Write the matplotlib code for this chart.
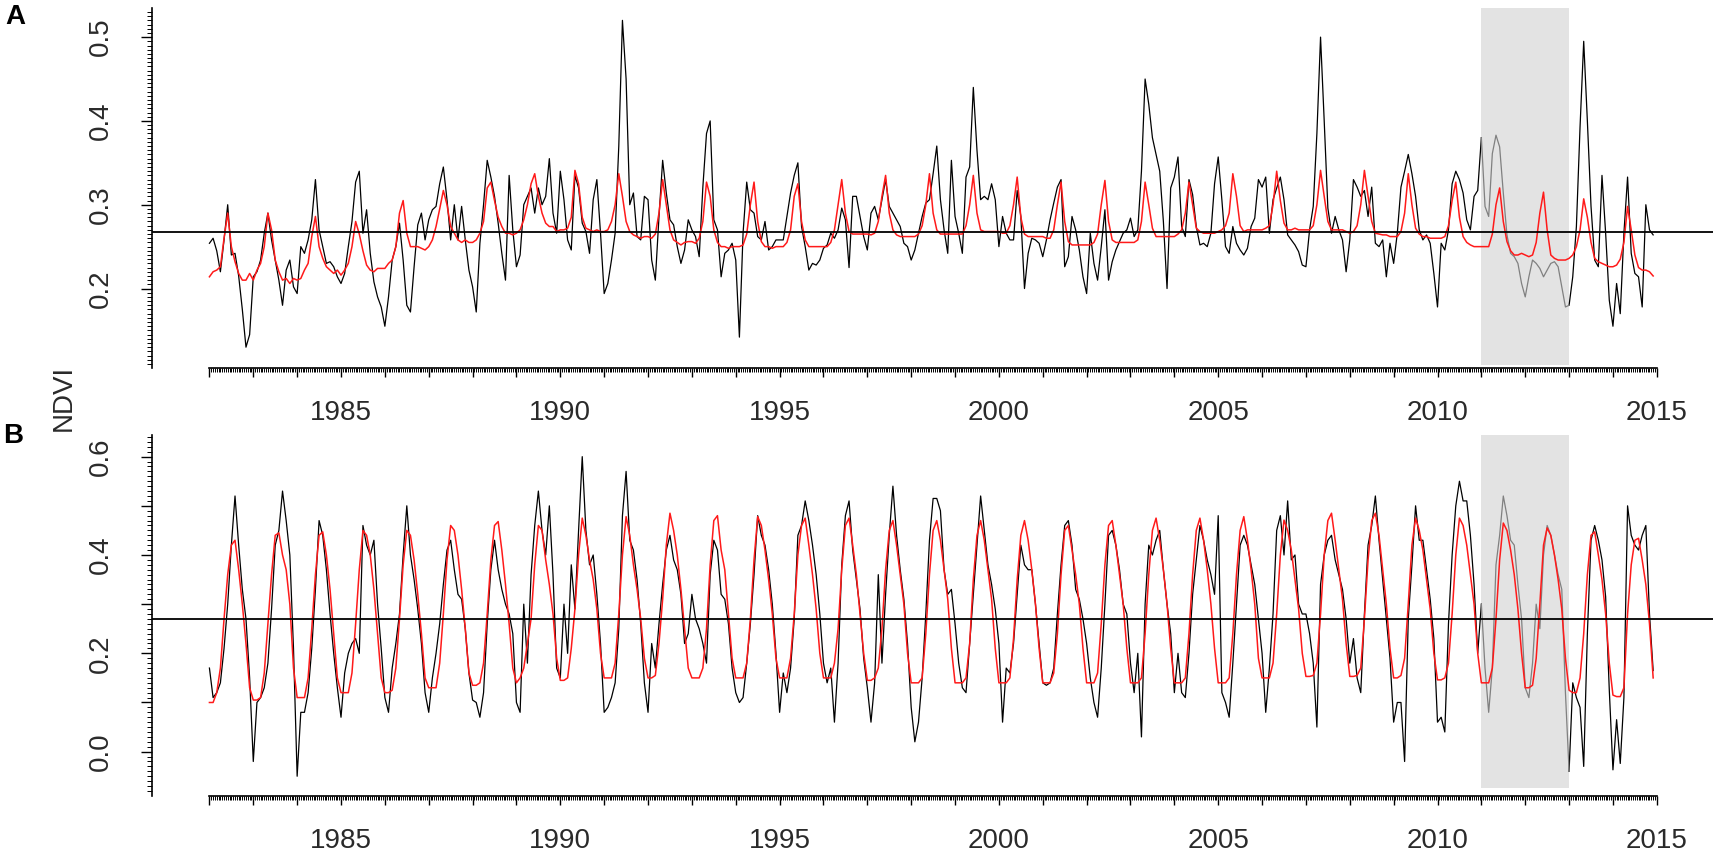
import numpy as np
import matplotlib
matplotlib.use("Agg")
import matplotlib.pyplot as plt
from matplotlib.ticker import FixedLocator, FixedFormatter

plt.rcParams['font.family'] = ['Liberation Sans', 'DejaVu Sans']

# monthly NDVI, one row per year (1982 .. 2014)
ndvi_a = [
    0.254, 0.26, 0.245, 0.22, 0.258, 0.30, 0.24, 0.242, 0.215, 0.175, 0.13, 0.145,
    0.214, 0.22, 0.234, 0.266, 0.29, 0.258, 0.234, 0.21, 0.18, 0.222, 0.234, 0.202,
    0.194, 0.25, 0.242, 0.258, 0.282, 0.33, 0.27, 0.25, 0.23, 0.232, 0.226, 0.214,
    0.206, 0.218, 0.25, 0.28, 0.327, 0.34, 0.266, 0.294, 0.242, 0.208, 0.19, 0.178,
    0.155, 0.19, 0.234, 0.25, 0.278, 0.234, 0.18, 0.172, 0.226, 0.276, 0.29, 0.258,
    0.282, 0.294, 0.298, 0.325, 0.345, 0.306, 0.258, 0.30, 0.258, 0.298, 0.258, 0.222,
    0.202, 0.172, 0.254, 0.30, 0.353, 0.333, 0.31, 0.278, 0.242, 0.21, 0.335, 0.27,
    0.226, 0.24, 0.30, 0.31, 0.32, 0.29, 0.32, 0.30, 0.31, 0.355, 0.29, 0.266,
    0.34, 0.306, 0.258, 0.246, 0.335, 0.32, 0.278, 0.268, 0.242, 0.306, 0.33, 0.266,
    0.194, 0.206, 0.234, 0.266, 0.37, 0.52, 0.45, 0.30, 0.314, 0.262, 0.258, 0.31,
    0.306, 0.234, 0.21, 0.286, 0.353, 0.314, 0.282, 0.276, 0.25, 0.23, 0.246, 0.282,
    0.27, 0.262, 0.238, 0.321, 0.385, 0.40, 0.282, 0.27, 0.214, 0.242, 0.246, 0.254,
    0.234, 0.142, 0.266, 0.327, 0.294, 0.29, 0.262, 0.258, 0.28, 0.246, 0.25, 0.258,
    0.258, 0.258, 0.286, 0.314, 0.335, 0.35, 0.274, 0.25, 0.222, 0.23, 0.228, 0.234,
    0.248, 0.252, 0.266, 0.26, 0.27, 0.296, 0.282, 0.225, 0.31, 0.31, 0.286, 0.262,
    0.246, 0.29, 0.298, 0.282, 0.306, 0.33, 0.298, 0.29, 0.282, 0.274, 0.254, 0.25,
    0.234, 0.246, 0.266, 0.286, 0.302, 0.306, 0.337, 0.37, 0.306, 0.27, 0.242, 0.353,
    0.286, 0.266, 0.242, 0.333, 0.345, 0.44, 0.365, 0.306, 0.31, 0.306, 0.325, 0.306,
    0.25, 0.286, 0.266, 0.258, 0.258, 0.317, 0.286, 0.20, 0.242, 0.26, 0.258, 0.254,
    0.238, 0.258, 0.282, 0.302, 0.321, 0.33, 0.226, 0.238, 0.286, 0.27, 0.246, 0.214,
    0.194, 0.266, 0.23, 0.21, 0.25, 0.294, 0.21, 0.232, 0.246, 0.256, 0.266, 0.27,
    0.284, 0.262, 0.27, 0.34, 0.45, 0.42, 0.38, 0.36, 0.34, 0.28, 0.20, 0.32,
    0.333, 0.357, 0.274, 0.262, 0.33, 0.312, 0.274, 0.252, 0.254, 0.25, 0.266, 0.325,
    0.357, 0.306, 0.25, 0.242, 0.274, 0.254, 0.246, 0.24, 0.248, 0.274, 0.284, 0.33,
    0.321, 0.333, 0.266, 0.306, 0.32, 0.333, 0.306, 0.264, 0.258, 0.252, 0.244, 0.228,
    0.226, 0.27, 0.298, 0.385, 0.50, 0.40, 0.296, 0.266, 0.286, 0.27, 0.258, 0.22,
    0.258, 0.33, 0.321, 0.31, 0.317, 0.286, 0.321, 0.254, 0.25, 0.258, 0.214, 0.254,
    0.23, 0.266, 0.321, 0.34, 0.36, 0.337, 0.31, 0.27, 0.258, 0.264, 0.254, 0.218,
    0.178, 0.254, 0.246, 0.27, 0.325, 0.34, 0.33, 0.314, 0.282, 0.27, 0.31, 0.317,
    0.38, 0.298, 0.286, 0.361, 0.383, 0.369, 0.314, 0.264, 0.242, 0.238, 0.23, 0.206,
    0.19, 0.214, 0.234, 0.23, 0.224, 0.214, 0.222, 0.23, 0.232, 0.226, 0.202, 0.178,
    0.18, 0.214, 0.274, 0.393, 0.495, 0.40, 0.298, 0.234, 0.226, 0.335, 0.266, 0.186,
    0.155, 0.206, 0.17, 0.266, 0.333, 0.242, 0.218, 0.214, 0.178, 0.30, 0.27, 0.264,
]

fit_a = [
    0.214, 0.22, 0.222, 0.226, 0.26, 0.29, 0.25, 0.232, 0.218, 0.21, 0.21, 0.218,
    0.21, 0.222, 0.23, 0.25, 0.29, 0.27, 0.234, 0.22, 0.21, 0.212, 0.206, 0.212,
    0.21, 0.212, 0.222, 0.23, 0.262, 0.286, 0.25, 0.236, 0.226, 0.222, 0.218, 0.222,
    0.216, 0.222, 0.23, 0.25, 0.28, 0.265, 0.245, 0.228, 0.222, 0.22, 0.224, 0.224,
    0.224, 0.23, 0.234, 0.25, 0.29, 0.305, 0.266, 0.25, 0.25, 0.25, 0.248, 0.246,
    0.25, 0.258, 0.274, 0.295, 0.317, 0.30, 0.274, 0.266, 0.258, 0.255, 0.258, 0.255,
    0.255, 0.258, 0.266, 0.28, 0.32, 0.327, 0.305, 0.285, 0.274, 0.266, 0.266, 0.264,
    0.266, 0.27, 0.282, 0.30, 0.325, 0.337, 0.31, 0.29, 0.278, 0.274, 0.274, 0.268,
    0.27, 0.27, 0.272, 0.285, 0.341, 0.325, 0.285, 0.272, 0.27, 0.268, 0.27, 0.268,
    0.268, 0.27, 0.28, 0.30, 0.337, 0.31, 0.28, 0.268, 0.264, 0.262, 0.26, 0.262,
    0.262, 0.26, 0.265, 0.29, 0.33, 0.30, 0.27, 0.258, 0.255, 0.252, 0.255, 0.256,
    0.256, 0.254, 0.26, 0.28, 0.327, 0.31, 0.27, 0.255, 0.25, 0.25, 0.248, 0.25,
    0.25, 0.25, 0.252, 0.265, 0.30, 0.327, 0.28, 0.256, 0.25, 0.25, 0.248, 0.25,
    0.25, 0.25, 0.255, 0.27, 0.31, 0.325, 0.28, 0.258, 0.25, 0.25, 0.25, 0.25,
    0.25, 0.25, 0.255, 0.27, 0.30, 0.33, 0.29, 0.268, 0.265, 0.265, 0.265, 0.265,
    0.265, 0.264, 0.266, 0.28, 0.31, 0.335, 0.29, 0.27, 0.264, 0.262, 0.262, 0.262,
    0.262, 0.262, 0.265, 0.275, 0.30, 0.337, 0.29, 0.27, 0.265, 0.265, 0.265, 0.265,
    0.265, 0.265, 0.265, 0.275, 0.30, 0.335, 0.29, 0.27, 0.268, 0.268, 0.268, 0.268,
    0.268, 0.266, 0.266, 0.275, 0.30, 0.333, 0.285, 0.265, 0.262, 0.262, 0.262, 0.262,
    0.262, 0.26, 0.26, 0.27, 0.30, 0.327, 0.28, 0.256, 0.252, 0.252, 0.252, 0.252,
    0.252, 0.252, 0.255, 0.265, 0.30, 0.329, 0.28, 0.258, 0.255, 0.255, 0.255, 0.255,
    0.255, 0.255, 0.258, 0.28, 0.327, 0.30, 0.272, 0.262, 0.262, 0.262, 0.262, 0.262,
    0.262, 0.265, 0.27, 0.29, 0.327, 0.30, 0.272, 0.268, 0.266, 0.266, 0.266, 0.266,
    0.268, 0.27, 0.275, 0.29, 0.337, 0.31, 0.275, 0.268, 0.27, 0.27, 0.27, 0.27,
    0.27, 0.272, 0.275, 0.30, 0.34, 0.305, 0.278, 0.27, 0.27, 0.272, 0.27, 0.27,
    0.27, 0.27, 0.275, 0.30, 0.341, 0.31, 0.28, 0.27, 0.27, 0.27, 0.27, 0.268,
    0.266, 0.268, 0.275, 0.30, 0.341, 0.31, 0.28, 0.266, 0.265, 0.264, 0.264, 0.262,
    0.262, 0.262, 0.268, 0.29, 0.337, 0.30, 0.272, 0.265, 0.262, 0.262, 0.26, 0.26,
    0.26, 0.26, 0.262, 0.275, 0.305, 0.327, 0.285, 0.262, 0.255, 0.252, 0.25, 0.25,
    0.25, 0.25, 0.25, 0.265, 0.30, 0.32, 0.28, 0.256, 0.245, 0.24, 0.24, 0.242,
    0.24, 0.238, 0.24, 0.255, 0.29, 0.315, 0.27, 0.24, 0.236, 0.234, 0.234, 0.234,
    0.236, 0.24, 0.25, 0.27, 0.307, 0.285, 0.255, 0.236, 0.232, 0.23, 0.228, 0.226,
    0.226, 0.228, 0.235, 0.255, 0.298, 0.27, 0.24, 0.225, 0.222, 0.222, 0.22, 0.215,
]

ndvi_b = [
    0.17, 0.11, 0.12, 0.14, 0.21, 0.30, 0.42, 0.52, 0.42, 0.33, 0.27, 0.15,
    -0.02, 0.10, 0.11, 0.13, 0.18, 0.29, 0.42, 0.45, 0.53, 0.47, 0.40, 0.21,
    -0.05, 0.08, 0.08, 0.12, 0.21, 0.33, 0.47, 0.44, 0.37, 0.28, 0.20, 0.13,
    0.07, 0.16, 0.20, 0.22, 0.23, 0.20, 0.46, 0.42, 0.40, 0.43, 0.30, 0.21,
    0.11, 0.08, 0.17, 0.22, 0.28, 0.40, 0.50, 0.40, 0.35, 0.29, 0.22, 0.12,
    0.08, 0.15, 0.20, 0.26, 0.34, 0.41, 0.43, 0.37, 0.32, 0.31, 0.25, 0.16,
    0.105, 0.10, 0.07, 0.12, 0.26, 0.37, 0.43, 0.37, 0.33, 0.30, 0.28, 0.24,
    0.10, 0.08, 0.30, 0.18, 0.36, 0.46, 0.53, 0.45, 0.40, 0.50, 0.36, 0.17,
    0.15, 0.30, 0.20, 0.38, 0.29, 0.45, 0.60, 0.45, 0.38, 0.40, 0.32, 0.22,
    0.08, 0.09, 0.11, 0.14, 0.25, 0.48, 0.57, 0.43, 0.41, 0.35, 0.26, 0.14,
    0.08, 0.22, 0.17, 0.26, 0.34, 0.41, 0.44, 0.39, 0.37, 0.32, 0.22, 0.24,
    0.32, 0.27, 0.25, 0.22, 0.18, 0.36, 0.43, 0.41, 0.32, 0.31, 0.26, 0.17,
    0.12, 0.10, 0.11, 0.18, 0.26, 0.36, 0.48, 0.44, 0.42, 0.37, 0.30, 0.20,
    0.08, 0.16, 0.12, 0.17, 0.27, 0.44, 0.46, 0.51, 0.47, 0.42, 0.36, 0.28,
    0.18, 0.14, 0.17, 0.06, 0.18, 0.38, 0.48, 0.51, 0.41, 0.35, 0.29, 0.19,
    0.13, 0.06, 0.14, 0.36, 0.18, 0.32, 0.44, 0.54, 0.44, 0.37, 0.31, 0.22,
    0.09, 0.02, 0.06, 0.15, 0.28, 0.43, 0.515, 0.515, 0.49, 0.37, 0.32, 0.33,
    0.26, 0.18, 0.13, 0.12, 0.22, 0.32, 0.42, 0.52, 0.45, 0.38, 0.34, 0.29,
    0.22, 0.06, 0.17, 0.16, 0.22, 0.32, 0.42, 0.38, 0.37, 0.37, 0.30, 0.22,
    0.14, 0.135, 0.14, 0.17, 0.28, 0.38, 0.46, 0.47, 0.42, 0.33, 0.31, 0.27,
    0.22, 0.15, 0.10, 0.07, 0.17, 0.30, 0.44, 0.45, 0.42, 0.37, 0.30, 0.28,
    0.18, 0.12, 0.20, 0.03, 0.30, 0.42, 0.40, 0.43, 0.45, 0.37, 0.30, 0.24,
    0.12, 0.20, 0.12, 0.11, 0.20, 0.32, 0.39, 0.46, 0.43, 0.39, 0.36, 0.32,
    0.48, 0.12, 0.10, 0.07, 0.18, 0.30, 0.42, 0.44, 0.42, 0.38, 0.34, 0.27,
    0.20, 0.08, 0.17, 0.28, 0.45, 0.48, 0.40, 0.51, 0.39, 0.40, 0.30, 0.28,
    0.28, 0.24, 0.18, 0.05, 0.34, 0.40, 0.43, 0.44, 0.39, 0.36, 0.33, 0.27,
    0.18, 0.23, 0.15, 0.12, 0.28, 0.42, 0.46, 0.52, 0.43, 0.35, 0.27, 0.19,
    0.06, 0.10, 0.10, -0.02, 0.27, 0.38, 0.50, 0.43, 0.43, 0.37, 0.31, 0.23,
    0.06, 0.07, 0.04, 0.26, 0.40, 0.50, 0.55, 0.51, 0.51, 0.44, 0.34, 0.20,
    0.30, 0.17, 0.08, 0.17, 0.38, 0.44, 0.52, 0.48, 0.43, 0.42, 0.34, 0.27,
    0.13, 0.11, 0.18, 0.30, 0.25, 0.40, 0.46, 0.44, 0.40, 0.36, 0.33, 0.12,
    -0.04, 0.14, 0.11, 0.09, -0.03, 0.24, 0.43, 0.46, 0.43, 0.39, 0.315, 0.125,
    -0.037, 0.065, -0.024, 0.11, 0.50, 0.44, 0.42, 0.41, 0.44, 0.46, 0.28, 0.165,
]

fit_b = [
    0.10, 0.10, 0.12, 0.17, 0.27, 0.36, 0.42, 0.43, 0.37, 0.30, 0.22, 0.13,
    0.105, 0.105, 0.11, 0.16, 0.26, 0.36, 0.44, 0.445, 0.40, 0.37, 0.30, 0.17,
    0.11, 0.11, 0.11, 0.15, 0.25, 0.36, 0.44, 0.447, 0.40, 0.33, 0.24, 0.15,
    0.12, 0.12, 0.12, 0.16, 0.26, 0.37, 0.45, 0.44, 0.40, 0.33, 0.24, 0.15,
    0.12, 0.12, 0.125, 0.17, 0.27, 0.38, 0.45, 0.44, 0.39, 0.32, 0.24, 0.15,
    0.13, 0.13, 0.13, 0.18, 0.28, 0.39, 0.46, 0.45, 0.40, 0.33, 0.25, 0.16,
    0.135, 0.135, 0.14, 0.18, 0.28, 0.39, 0.46, 0.468, 0.41, 0.34, 0.26, 0.17,
    0.14, 0.15, 0.17, 0.22, 0.27, 0.38, 0.46, 0.45, 0.39, 0.34, 0.28, 0.19,
    0.145, 0.145, 0.15, 0.21, 0.29, 0.40, 0.475, 0.44, 0.39, 0.35, 0.29, 0.20,
    0.15, 0.15, 0.15, 0.18, 0.28, 0.40, 0.478, 0.44, 0.38, 0.33, 0.27, 0.19,
    0.15, 0.15, 0.155, 0.22, 0.31, 0.42, 0.485, 0.45, 0.40, 0.33, 0.25, 0.17,
    0.15, 0.15, 0.15, 0.17, 0.25, 0.38, 0.47, 0.48, 0.41, 0.37, 0.28, 0.19,
    0.15, 0.15, 0.15, 0.18, 0.27, 0.39, 0.478, 0.46, 0.41, 0.35, 0.28, 0.19,
    0.15, 0.15, 0.15, 0.19, 0.28, 0.40, 0.46, 0.475, 0.42, 0.36, 0.29, 0.20,
    0.15, 0.15, 0.15, 0.18, 0.25, 0.37, 0.46, 0.475, 0.42, 0.36, 0.28, 0.20,
    0.145, 0.145, 0.15, 0.17, 0.25, 0.37, 0.45, 0.47, 0.42, 0.36, 0.30, 0.20,
    0.14, 0.14, 0.14, 0.15, 0.24, 0.36, 0.45, 0.47, 0.43, 0.37, 0.31, 0.21,
    0.14, 0.14, 0.14, 0.15, 0.22, 0.35, 0.44, 0.47, 0.43, 0.37, 0.31, 0.21,
    0.14, 0.14, 0.14, 0.15, 0.23, 0.35, 0.44, 0.47, 0.43, 0.37, 0.30, 0.21,
    0.14, 0.14, 0.14, 0.16, 0.24, 0.36, 0.45, 0.46, 0.41, 0.36, 0.30, 0.21,
    0.14, 0.14, 0.14, 0.16, 0.26, 0.38, 0.46, 0.47, 0.42, 0.36, 0.30, 0.21,
    0.14, 0.14, 0.14, 0.15, 0.24, 0.36, 0.45, 0.475, 0.43, 0.37, 0.30, 0.21,
    0.14, 0.14, 0.14, 0.15, 0.24, 0.36, 0.45, 0.475, 0.43, 0.37, 0.30, 0.21,
    0.14, 0.14, 0.14, 0.15, 0.24, 0.36, 0.45, 0.478, 0.43, 0.37, 0.30, 0.19,
    0.15, 0.15, 0.15, 0.18, 0.28, 0.40, 0.471, 0.45, 0.41, 0.35, 0.29, 0.20,
    0.153, 0.153, 0.155, 0.18, 0.28, 0.40, 0.47, 0.485, 0.43, 0.37, 0.31, 0.22,
    0.153, 0.153, 0.155, 0.17, 0.27, 0.39, 0.47, 0.485, 0.44, 0.37, 0.30, 0.21,
    0.15, 0.15, 0.155, 0.19, 0.30, 0.42, 0.475, 0.45, 0.41, 0.35, 0.29, 0.20,
    0.146, 0.146, 0.15, 0.18, 0.28, 0.40, 0.475, 0.46, 0.42, 0.36, 0.30, 0.20,
    0.14, 0.14, 0.14, 0.17, 0.27, 0.39, 0.465, 0.45, 0.41, 0.36, 0.29, 0.20,
    0.13, 0.13, 0.135, 0.19, 0.30, 0.42, 0.455, 0.44, 0.40, 0.35, 0.29, 0.19,
    0.125, 0.12, 0.12, 0.15, 0.24, 0.36, 0.44, 0.447, 0.40, 0.35, 0.28, 0.18,
    0.115, 0.112, 0.112, 0.13, 0.28, 0.38, 0.43, 0.434, 0.39, 0.34, 0.26, 0.15,
]

ref_a = 0.268          # horizontal reference line, panel A
ref_b = 0.270          # horizontal reference line, panel B
drought = (2011, 2013)  # shaded period
label_years = [1985, 1990, 1995, 2000, 2005, 2010, 2015]

TXT = '#2a2a2a'


def draw_panel(ax, obs, fit, ref, ylim, band, yticks, ylabels, yminor):
    t = 1982 + np.arange(len(obs)) / 12.0
    obs = np.asarray(obs, dtype=float)
    fit = np.asarray(fit, dtype=float)

    ax.fill_between(drought, band[0], band[1], color='#e3e3e3', lw=0, zorder=0)

    out = (t <= drought[0]) | (t >= drought[1])
    ins = (t >= drought[0]) & (t <= drought[1])
    ax.plot(t, np.where(out, obs, np.nan), color='black', lw=0.9, zorder=2)
    ax.plot(t, np.where(ins, obs, np.nan), color='#808080', lw=0.9, zorder=2)
    ax.plot(t, fit, color='#ff1a1a', lw=1.1, zorder=3)
    ax.axhline(ref, color='black', lw=1.3, zorder=4)

    ax.set_xlim(1980.68, 2016.28)
    ax.set_ylim(*ylim)

    majors = list(range(1982, 2016))
    ax.xaxis.set_major_locator(FixedLocator(majors))
    ax.xaxis.set_major_formatter(FixedFormatter(
        [str(y) if y in label_years else '' for y in majors]))
    ax.xaxis.set_minor_locator(FixedLocator(1982 + np.arange(33 * 24 + 1) / 24.0))

    ax.yaxis.set_major_locator(FixedLocator(yticks))
    ax.yaxis.set_major_formatter(FixedFormatter(ylabels))
    ax.yaxis.set_minor_locator(FixedLocator(yminor))

    for s in ('top', 'right'):
        ax.spines[s].set_visible(False)
    ax.spines['bottom'].set_bounds(1982, 2015)
    ax.spines['bottom'].set_linewidth(1.2)
    ax.spines['left'].set_linewidth(1.2)

    ax.tick_params(axis='x', which='major', length=6.5, width=1.0, pad=17,
                   labelsize=20, labelcolor=TXT)
    ax.tick_params(axis='x', which='minor', length=3, width=0.7)
    ax.tick_params(axis='y', which='major', length=8, width=1.0, pad=19,
                   labelsize=20, labelcolor=TXT, labelrotation=90)
    ax.tick_params(axis='y', which='minor', length=3.5, width=0.7)
    for lab in ax.get_yticklabels():
        lab.set_va('center')


fig = plt.figure(figsize=(17.2, 8.64), dpi=100)
ax_a = fig.add_axes([0.0881, 0.5744, 0.9078, 0.416])
ax_b = fig.add_axes([0.0881, 0.0791, 0.9078, 0.4174])

draw_panel(ax_a, ndvi_a, fit_a, ref_a, (0.1055, 0.5344), (0.109, 0.536),
           [0.2, 0.3, 0.4, 0.5], ['0.2', '0.3', '0.4', '0.5'],
           np.arange(22, 107) * 0.005)
draw_panel(ax_b, ndvi_b, fit_b, ref_b, (-0.0895, 0.644), (-0.074, 0.644),
           [0.0, 0.1, 0.2, 0.3, 0.4, 0.5, 0.6],
           ['0.0', '', '0.2', '', '0.4', '', '0.6'],
           np.arange(-8, 65) * 0.01)

fig.text(0.0372, 0.539, 'NDVI', rotation=90, fontsize=20, ha='center',
         va='center', color=TXT)
fig.text(15 / 1720, 1 - 17 / 864, 'A', fontsize=20, fontweight='bold',
         ha='center', va='center')
fig.text(13 / 1720, 1 - 436 / 864, 'B', fontsize=20, fontweight='bold',
         ha='center', va='center')

fig.savefig('out.png', dpi=100)
